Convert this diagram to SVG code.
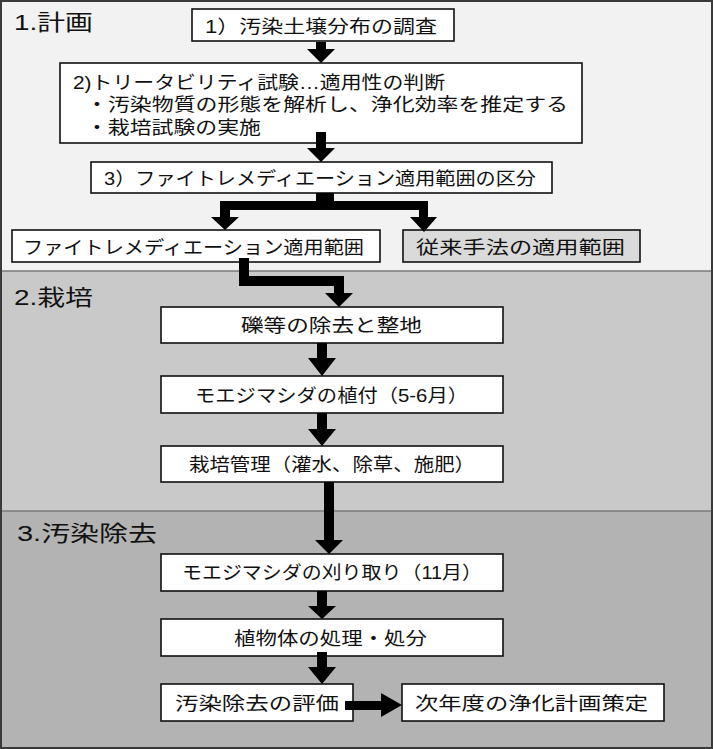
<svg xmlns="http://www.w3.org/2000/svg" width="713" height="749" viewBox="0 0 713 749">
<style>
.sec{stroke:none}
.sep{stroke:#7a7a7a;stroke-width:1.5}
.box{fill:#ffffff;stroke:#111111;stroke-width:1.6}
.gbox{fill:#dadada;stroke:#111111;stroke-width:1.6}
.t{font-family:"Liberation Sans","Noto Sans CJK JP",sans-serif;font-size:18.5px;fill:#111111;dominant-baseline:central}
.h{font-family:"Liberation Sans","Noto Sans CJK JP",sans-serif;font-size:22px;fill:#111111;dominant-baseline:central}
.arr{fill:#000000;stroke:none}
</style>
<g id="backgrounds">
<rect class="sec" x="0" y="0" width="713" height="271" fill="#f2f2f2"/>
<rect class="sec" x="0" y="271" width="713" height="240" fill="#c9c9c9"/>
<rect class="sec" x="0" y="511" width="713" height="238" fill="#b3b3b3"/>
<line class="sep" x1="0" y1="271" x2="713" y2="271"/>
<line class="sep" x1="0" y1="511" x2="713" y2="511"/>
<rect x="1" y="1" width="711" height="747" fill="none" stroke="#3a3a3a" stroke-width="2"/>
</g>
<g id="section-labels">
<text class="h" x="14" y="22" textLength="79" lengthAdjust="spacingAndGlyphs">1.計画</text>
<text class="h" x="14" y="297" textLength="79" lengthAdjust="spacingAndGlyphs">2.栽培</text>
<text class="h" x="17" y="533" textLength="140" lengthAdjust="spacingAndGlyphs">3.汚染除去</text>
</g>
<g id="node-survey">
<rect class="box" x="192" y="9" width="262" height="32"/>
<text class="t" x="205" y="26" textLength="232" lengthAdjust="spacingAndGlyphs">1）汚染土壌分布の調査</text>
</g>
<g id="node-treatability">
<rect class="box" x="60" y="63" width="522" height="80"/>
<text class="t" x="73" y="82" textLength="372" lengthAdjust="spacingAndGlyphs">2)トリータビリティ試験…適用性の判断</text>
<text class="t" x="86" y="104.5" textLength="482" lengthAdjust="spacingAndGlyphs">・汚染物質の形態を解析し、浄化効率を推定する</text>
<text class="t" x="86" y="127" textLength="175" lengthAdjust="spacingAndGlyphs">・栽培試験の実施</text>
</g>
<g id="node-classify">
<rect class="box" x="91" y="162" width="461" height="31"/>
<text class="t" x="104" y="178" textLength="432" lengthAdjust="spacingAndGlyphs">3）ファイトレメディエーション適用範囲の区分</text>
</g>
<g id="node-phyto-range">
<rect class="box" x="12" y="230" width="368" height="32"/>
<text class="t" x="23" y="247" textLength="341" lengthAdjust="spacingAndGlyphs">ファイトレメディエーション適用範囲</text>
</g>
<g id="node-conventional">
<rect class="gbox" x="403" y="230" width="237" height="32"/>
<text class="t" x="416" y="247" textLength="209" lengthAdjust="spacingAndGlyphs">従来手法の適用範囲</text>
</g>
<g id="node-clearing">
<rect class="box" x="161" y="307" width="342" height="36"/>
<text class="t" x="241" y="325" textLength="181" lengthAdjust="spacingAndGlyphs">礫等の除去と整地</text>
</g>
<g id="node-planting">
<rect class="box" x="161" y="376" width="342" height="37"/>
<text class="t" x="195" y="395" textLength="273" lengthAdjust="spacingAndGlyphs">モエジマシダの植付（5-6月）</text>
</g>
<g id="node-management">
<rect class="box" x="161" y="446" width="342" height="36"/>
<text class="t" x="189" y="464" textLength="286" lengthAdjust="spacingAndGlyphs">栽培管理（灌水、除草、施肥）</text>
</g>
<g id="node-harvest">
<rect class="box" x="161" y="554" width="342" height="37"/>
<text class="t" x="182" y="572" textLength="300" lengthAdjust="spacingAndGlyphs">モエジマシダの刈り取り（11月）</text>
</g>
<g id="node-disposal">
<rect class="box" x="161" y="619" width="342" height="37"/>
<text class="t" x="234" y="638" textLength="193" lengthAdjust="spacingAndGlyphs">植物体の処理・処分</text>
</g>
<g id="node-evaluation">
<rect class="box" x="161" y="684" width="192" height="37"/>
<text class="t" x="175" y="703" textLength="164" lengthAdjust="spacingAndGlyphs">汚染除去の評価</text>
</g>
<g id="node-next-plan">
<rect class="box" x="402" y="684" width="262" height="37"/>
<text class="t" x="415" y="703" textLength="233" lengthAdjust="spacingAndGlyphs">次年度の浄化計画策定</text>
</g>
<g id="connectors">
<polygon class="arr" points="316,42 326,42 326,49 335,49 321,63 307,49 316,49"/>
<polygon class="arr" points="316,132 326,132 326,148 335,148 321,162 307,148 316,148"/>
<polygon class="arr" points="316,193 334,193 334,201 428,201 428,217 437,217 424,232 410,217 419,217 419,210 230,210 230,217 239,217 225,230 211,217 220,217 220,201 316,201"/>
<polygon class="arr" points="239,258 249,258 249,276 344,276 344,293 353,293 339,307 325,293 334,293 334,286 239,286"/>
<polygon class="arr" points="317,343 327,343 327,358 336,358 322,376 308,358 317,358"/>
<polygon class="arr" points="317,413 327,413 327,429 336,429 322,446 308,429 317,429"/>
<polygon class="arr" points="324,482 334,482 334,540 343,540 329,554 315,540 324,540"/>
<polygon class="arr" points="317,591 327,591 327,606 336,606 322,619 308,606 317,606"/>
<polygon class="arr" points="317,652 327,652 327,667 336,667 322,684 308,667 317,667"/>
<polygon class="arr" points="345,701 381,701 381,693 402,705 381,717 381,710 345,710"/>
</g>
</svg>
